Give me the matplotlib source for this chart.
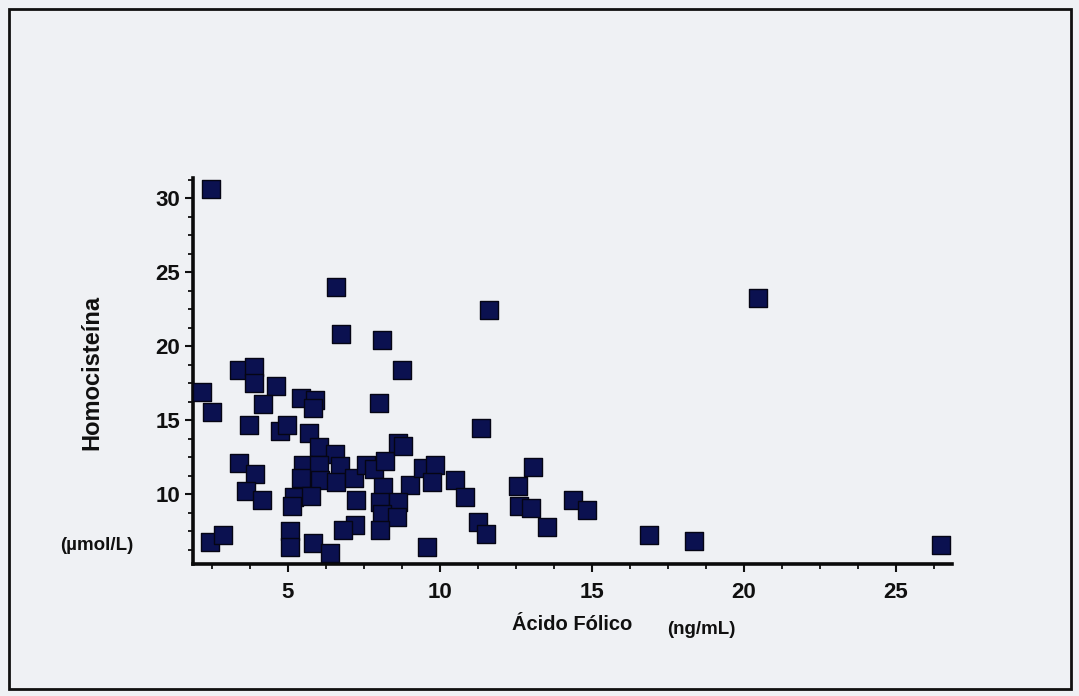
import matplotlib
matplotlib.use("Agg")
import matplotlib.pyplot as plt
from matplotlib.patches import Rectangle
from matplotlib.ticker import MultipleLocator

# Acido folico (ng/mL) vs homocisteina (umol/L)
folico = [2.48, 6.58, 6.74, 8.11, 8.76, 3.41, 3.89, 3.89, 4.62, 2.17,
          4.18, 5.44, 5.90, 5.82, 8.00, 2.52, 3.72, 4.75, 4.98, 5.71,
          6.04, 6.57, 3.41, 5.49, 6.02, 6.71, 3.94, 5.45, 6.05, 6.60,
          7.18, 7.56, 7.83, 8.21, 8.64, 8.80, 8.14, 9.01, 9.46, 9.85,
          9.74, 10.50, 3.62, 4.17, 5.20, 5.15, 5.75, 7.23, 8.04, 8.62,
          8.09, 8.59, 7.21, 6.82, 8.03, 2.46, 2.86, 5.06, 5.06, 5.82,
          6.40, 9.57, 11.62, 11.36, 10.83, 11.27, 11.52, 13.06, 12.57, 12.62,
          13.00, 13.52, 14.37, 14.86, 16.90, 18.37, 20.46, 26.50]
homocisteina = [30.6, 24.0, 20.8, 20.4, 18.4, 18.4, 18.6, 17.5, 17.3, 16.9,
                16.1, 16.5, 16.4, 15.8, 16.15, 15.55, 14.65, 14.25, 14.65, 14.15,
                13.2, 12.7, 12.1, 11.98, 11.95, 11.9, 11.4, 11.1, 10.95, 10.8,
                11.08, 11.95, 11.68, 12.25, 13.45, 13.27, 10.5, 10.6, 11.8, 11.98,
                10.8, 10.97, 10.22, 9.6, 9.8, 9.2, 9.9, 9.61, 9.45, 9.5,
                8.65, 8.49, 7.96, 7.62, 7.62, 6.78, 7.25, 7.5, 6.45, 6.69,
                6.01, 6.46, 22.45, 14.46, 9.84, 8.15, 7.3, 11.82, 10.56, 9.21,
                9.1, 7.81, 9.61, 8.94, 7.25, 6.84, 23.27, 6.57]

x_ticks = [5, 10, 15, 20, 25]
y_ticks = [10, 15, 20, 25, 30]

bg = "#eff1f4"
ink = "#101010"
font = "Liberation Sans"

fig = plt.figure(figsize=(10.79, 6.96), dpi=100)
fig.patch.set_facecolor(bg)

# outer frame of the scanned figure
fig.patches.append(Rectangle((9 / 1079, 7 / 696), 1062 / 1079, 680 / 696,
                             transform=fig.transFigure, fill=False,
                             edgecolor=ink, linewidth=2.0))

ax = fig.add_axes([0.1786, 0.1897, 0.7034, 0.5545])
ax.set_facecolor(bg)
ax.scatter(folico, homocisteina, marker="s", s=150, facecolor="#0b1150",
           edgecolor="#050514", linewidth=1.0, zorder=3, clip_on=False)

ax.set_xlim(1.875, 26.84)
ax.set_ylim(5.3, 31.35)
ax.set_xticks(x_ticks)
ax.set_yticks(y_ticks)
ax.xaxis.set_minor_locator(MultipleLocator(1.25))
ax.yaxis.set_minor_locator(MultipleLocator(1.25))

for side in ["top", "right"]:
    ax.spines[side].set_visible(False)
for side in ["left", "bottom"]:
    ax.spines[side].set_linewidth(2.6)
    ax.spines[side].set_color("#0a0a0a")

ax.tick_params(which="major", direction="out", length=6, width=1.5, color=ink)
ax.tick_params(which="minor", direction="out", length=3.5, width=1.3, color=ink)
ax.tick_params(axis="x", which="major", pad=7)
ax.tick_params(axis="y", which="major", pad=3)
for lab in ax.get_xticklabels() + ax.get_yticklabels():
    lab.set_fontfamily(font)
    lab.set_fontsize(16)
    lab.set_fontweight("bold")
    lab.set_color(ink)

fig.text(92 / 1079, 1 - 372 / 696, "Homocisteína", rotation=90, ha="center",
         va="center", fontsize=17, fontweight="bold", family=font, color=ink)
fig.text(97 / 1079, 1 - 545 / 696, "(µmol/L)", ha="center", va="center",
         fontsize=13.5, fontweight="bold", family=font, color=ink)
fig.text(572 / 1079, 1 - 625 / 696, "Ácido Fólico", ha="center", va="center",
         fontsize=14.5, fontweight="bold", family=font, color=ink)
fig.text(701 / 1079, 1 - 630 / 696, "(ng/mL)", ha="center", va="center",
         fontsize=13.5, fontweight="bold", family=font, color=ink)

fig.savefig("out.png", dpi=100, facecolor=bg)
